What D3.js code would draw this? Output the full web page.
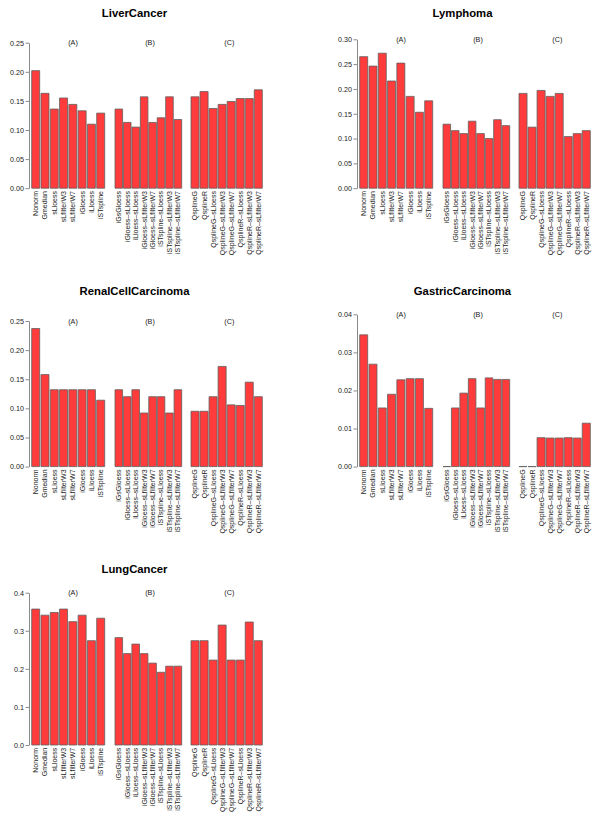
<!DOCTYPE html>
<html>
<head>
<meta charset="utf-8">
<script src="https://cdn.jsdelivr.net/npm/d3@7"></script>
<style>
  html, body { margin: 0; padding: 0; background: #fff; }
  svg { display: block; font-family: "Liberation Sans", Arial, Helvetica, sans-serif; }
</style>
</head>
<body>
<svg id="chart" width="600" height="821"></svg>
<script>
// ---------- Data ----------
const methodsA = ["Nonorm", "Gmedian", "sLloess", "sLfilterW3", "sLfilterW7", "iGloess", "iLloess", "iSTspline"];
const methodsB = ["iGsGloess", "iGloess\u2013sLloess", "iLloess\u2013sLloess", "iGloess\u2013sLfilterW3",
                  "iGloess\u2013sLfilterW7", "iSTspline\u2013sLloess", "iSTspline\u2013sLfilterW3", "iSTspline\u2013sLfilterW7"];
const methodsC = ["QsplineG", "QsplineR", "QsplineG\u2013sLloess", "QsplineG\u2013sLfilterW3",
                  "QsplineG\u2013sLfilterW7", "QsplineR\u2013sLloess", "QsplineR\u2013sLfilterW3", "QsplineR\u2013sLfilterW7"];
const groupNames = ["(A)", "(B)", "(C)"];

const panelTitles = ["LiverCancer", "Lymphoma", "RenalCellCarcinoma", "GastricCarcinoma", "LungCancer"];

const liverA = [0.202, 0.163, 0.136, 0.155, 0.144, 0.133, 0.110, 0.129];
const liverB = [0.136, 0.113, 0.105, 0.157, 0.113, 0.121, 0.157, 0.118];
const liverC = [0.157, 0.166, 0.137, 0.144, 0.149, 0.154, 0.154, 0.169];

const lymphA = [0.265, 0.246, 0.272, 0.216, 0.252, 0.185, 0.153, 0.176];
const lymphB = [0.129, 0.116, 0.110, 0.135, 0.110, 0.100, 0.138, 0.126];
const lymphC = [0.191, 0.123, 0.197, 0.185, 0.191, 0.104, 0.110, 0.116];

const renalA = [0.237, 0.158, 0.132, 0.132, 0.132, 0.132, 0.132, 0.114];
const renalB = [0.132, 0.120, 0.132, 0.092, 0.120, 0.120, 0.092, 0.132];
const renalC = [0.095, 0.095, 0.120, 0.172, 0.106, 0.105, 0.145, 0.120];

const gastricA = [0.0346, 0.0269, 0.0154, 0.0190, 0.0228, 0.0231, 0.0231, 0.0153];
const gastricB = [0.0000, 0.0154, 0.0193, 0.0231, 0.0154, 0.0233, 0.0229, 0.0229];
const gastricC = [0.0000, 0.0000, 0.0076, 0.0075, 0.0075, 0.0076, 0.0075, 0.0114];

const lungA = [0.357, 0.341, 0.348, 0.357, 0.324, 0.341, 0.274, 0.333];
const lungB = [0.282, 0.240, 0.265, 0.240, 0.215, 0.191, 0.207, 0.207];
const lungC = [0.274, 0.274, 0.223, 0.315, 0.223, 0.223, 0.323, 0.274];

const tickLiver   = [0.00, 0.05, 0.10, 0.15, 0.20, 0.25];
const tickLymph   = [0.00, 0.05, 0.10, 0.15, 0.20, 0.25, 0.30];
const tickRenal   = [0.00, 0.05, 0.10, 0.15, 0.20, 0.25];
const tickGastric = [0.00, 0.01, 0.02, 0.03, 0.04];
const tickLung    = [0.0, 0.1, 0.2, 0.3, 0.4];

// ---------- Panel table built from arrays ----------
const panels = [
  { title: panelTitles[0], groups: [liverA, liverB, liverC],       ticks: tickLiver,   fmt: ".2f", col: 0, row: 0, topY: 42.7 },
  { title: panelTitles[1], groups: [lymphA, lymphB, lymphC],       ticks: tickLymph,   fmt: ".2f", col: 1, row: 0, topY: 39.3 },
  { title: panelTitles[2], groups: [renalA, renalB, renalC],       ticks: tickRenal,   fmt: ".2f", col: 0, row: 1, topY: 42.6 },
  { title: panelTitles[3], groups: [gastricA, gastricB, gastricC], ticks: tickGastric, fmt: ".2f", col: 1, row: 1, topY: 35.9 },
  { title: panelTitles[4], groups: [lungA, lungB, lungC],          ticks: tickLung,    fmt: ".1f", col: 0, row: 2, topY: 35.9 }
];
const methodLists = [methodsA, methodsB, methodsC];

// ---------- Layout ----------
const colX = [0, 328];
const rowY = [0, 278.4, 556.8];
const axisX = 29;
const zeroY = 188.2;
const groupRanges = [[31.7, 104.7], [115, 181.7], [191, 262.3]];
const groupPad = [0.14, 0.10, 0.11];
const headerX = [73, 150, 229.3];
const titleX = 134.5;
const titleBaseline = 16.6;

const barFill = "#ff3b3b";
const barStroke = "#5e5e5e";
const axisColor = "#8a8a8a";

const svg = d3.select("#chart");

panels.forEach(p => {
  const g = svg.append("g").attr("transform", `translate(${colX[p.col]},${rowY[p.row]})`);

  // title
  g.append("text")
    .attr("x", titleX).attr("y", titleBaseline)
    .attr("text-anchor", "middle")
    .attr("font-size", 11.3).attr("font-weight", "bold")
    .attr("fill", "#000")
    .text(p.title);

  const top = p.ticks[p.ticks.length - 1];
  const y = d3.scaleLinear().domain([0, top]).range([zeroY, p.topY]);

  // y axis
  const ax = g.append("g").attr("transform", `translate(${axisX},0)`)
    .call(d3.axisLeft(y).tickValues(p.ticks).tickFormat(d3.format(p.fmt))
      .tickSize(3.5).tickSizeOuter(0).tickPadding(1.6));
  ax.select(".domain").attr("stroke", axisColor).attr("stroke-width", 1);
  ax.selectAll(".tick line").attr("stroke", axisColor);
  ax.selectAll(".tick text").attr("font-size", 7.2).attr("fill", "#222")
    .attr("font-family", "Liberation Sans, Arial, sans-serif");

  p.groups.forEach((vals, gi) => {
    const names = methodLists[gi];
    const x = d3.scaleBand().domain(names).range(groupRanges[gi])
      .paddingInner(groupPad[gi]).paddingOuter(0);
    // shift range so last bar ends at the measured edge
    const data = names.map((n, i) => ({ name: n, value: vals[i] }));

    // header
    g.append("text")
      .attr("x", headerX[gi]).attr("y", p.topY)
      .attr("dy", "0.35em")
      .attr("text-anchor", "middle")
      .attr("font-size", 7.2).attr("fill", "#222")
      .text(groupNames[gi]);

    // bars (paths so zero-height bars still show their outline)
    g.selectAll(null).data(data).enter().append("path")
      .attr("d", d => {
        const x0 = x(d.name), w = x.bandwidth();
        const y0 = y(0), y1 = y(d.value);
        return `M${x0},${y0}V${y1}H${x0 + w}V${y0}Z`;
      })
      .attr("fill", barFill)
      .attr("stroke", barStroke)
      .attr("stroke-width", 0.8);

    // rotated category labels
    g.selectAll(null).data(data).enter().append("text")
      .attr("transform", d => `translate(${x(d.name) + x.bandwidth() / 2},${zeroY + 2.8}) rotate(-90)`)
      .attr("dy", "0.35em")
      .attr("text-anchor", "end")
      .attr("font-size", 7)
      .attr("fill", "#222")
      .text(d => d.name);
  });
});
</script>
</body>
</html>
